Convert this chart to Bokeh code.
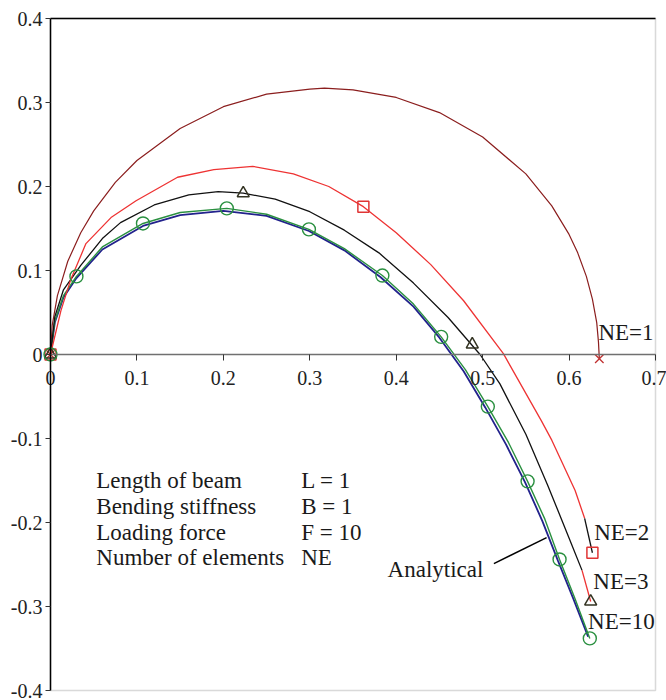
from bokeh.plotting import figure
from bokeh.models import (LinearAxis, FixedTicker, CustomJSTickFormatter, Label,
                          BoxAnnotation, Range1d)
from bokeh.embed import file_html
from bokeh.resources import INLINE

# ---- data ----
x_ticks = [0, 0.1, 0.2, 0.3, 0.4, 0.5, 0.6, 0.7]
y_ticks = [-0.4, -0.3, -0.2, -0.1, 0, 0.1, 0.2, 0.3, 0.4]

# NE = 1
ne1_x = [0, 0.002, 0.008, 0.02, 0.035, 0.05, 0.075, 0.1, 0.15, 0.2, 0.25, 0.3, 0.317, 0.35,
         0.4, 0.45, 0.5, 0.55, 0.58, 0.6, 0.61, 0.62, 0.627, 0.632, 0.634, 0.635]
ne1_y = [0, 0.035, 0.07, 0.111, 0.145, 0.171, 0.205, 0.231, 0.269, 0.295, 0.310, 0.316,
         0.317, 0.315, 0.306, 0.288, 0.259, 0.215, 0.177, 0.143, 0.121, 0.093, 0.066,
         0.038, 0.015, -0.005]
ne1_nx = [0, 0.635]
ne1_ny = [0, -0.005]

# NE = 2
ne2_x = [0, 0.012, 0.023, 0.041, 0.070, 0.099, 0.147, 0.189, 0.234, 0.281, 0.322, 0.362,
         0.40, 0.44, 0.478, 0.524, 0.568, 0.580, 0.607, 0.618, 0.627]
ne2_y = [0, 0.052, 0.088, 0.132, 0.163, 0.183, 0.211, 0.220, 0.224, 0.215, 0.200, 0.176,
         0.145, 0.107, 0.064, 0.001, -0.079, -0.102, -0.162, -0.195, -0.236]
ne2_nx = [0, 0.362, 0.627]
ne2_ny = [0, 0.176, -0.236]

# NE = 3
ne3_x = [0, 0.005, 0.015, 0.035, 0.06, 0.081, 0.12, 0.16, 0.194, 0.223, 0.26, 0.30, 0.34,
         0.38, 0.42, 0.46, 0.497, 0.52, 0.55, 0.575, 0.601, 0.615, 0.625]
ne3_y = [0, 0.045, 0.077, 0.106, 0.138, 0.157, 0.178, 0.190, 0.194, 0.192, 0.185, 0.170,
         0.148, 0.121, 0.085, 0.044, 0.0, -0.035, -0.095, -0.155, -0.221, -0.257, -0.294]
ne3_nx = [0, 0.223, 0.488, 0.625]
ne3_ny = [0, 0.192, 0.012, -0.294]

# NE = 10
ne10_x = [0, 0.005, 0.015, 0.030, 0.06, 0.107, 0.15, 0.204, 0.25, 0.299, 0.34, 0.384, 0.42,
          0.452, 0.48, 0.506, 0.53, 0.552, 0.572, 0.589, 0.607, 0.624]
ne10_y = [0, 0.04, 0.07, 0.093, 0.128, 0.156, 0.169, 0.174, 0.167, 0.149, 0.126, 0.094,
          0.060, 0.021, -0.018, -0.062, -0.105, -0.151, -0.196, -0.244, -0.291, -0.338]
ne10_nx = [0, 0.030, 0.107, 0.204, 0.299, 0.384, 0.452, 0.506, 0.552, 0.589, 0.624]
ne10_ny = [0, 0.093, 0.156, 0.174, 0.149, 0.094, 0.021, -0.062, -0.151, -0.244, -0.338]

# Analytical
an_x = [0, 0.005, 0.015, 0.030, 0.06, 0.107, 0.15, 0.2, 0.25, 0.299, 0.34, 0.382, 0.42,
        0.45, 0.478, 0.503, 0.527, 0.549, 0.569, 0.587, 0.605, 0.622]
an_y = [0, 0.038, 0.068, 0.091, 0.125, 0.153, 0.166, 0.171, 0.165, 0.147, 0.124, 0.092,
        0.057, 0.020, -0.020, -0.063, -0.107, -0.152, -0.198, -0.245, -0.291, -0.336]

info_left = ["Length of beam", "Bending stiffness", "Loading force", "Number of elements"]
info_right = ["L = 1", "B = 1", "F = 10", "NE"]

# ---- styling ----
FONT = "Liberation Serif"
C_NE1 = "#8B1E1E"
C_NE2 = "#EE3333"
C_NE3 = "#111111"
C_NE10 = "#2A9040"
C_AN = "#22228C"

XMIN, XMAX = x_ticks[0], x_ticks[-1]
YMIN, YMAX = y_ticks[0], y_ticks[-1]
# the drawing area covers the whole canvas so that the crossing axes' labels are not clipped
PX_X = 605 / (XMAX - XMIN)
PX_Y = 672 / (YMAX - YMIN)
x_rng = Range1d(XMIN - 50 / PX_X, XMAX + 11 / PX_X)
y_rng = Range1d(YMIN - 10 / PX_Y, YMAX + 18 / PX_Y)

p = figure(width=666, height=700, output_backend="svg", toolbar_location=None,
           x_range=x_rng, y_range=y_rng, x_axis_type=None, y_axis_type=None,
           min_border_left=0, min_border_right=0, min_border_top=0, min_border_bottom=0)
p.background_fill_color = "white"
p.border_fill_color = "white"
p.xgrid.visible = False
p.ygrid.visible = False
p.outline_line_color = None

fmt = CustomJSTickFormatter(code="return Number(tick.toFixed(1)).toString();")

# plot box: grey right/bottom, black top
p.add_layout(BoxAnnotation(left=XMIN, right=XMAX, bottom=YMIN, top=YMAX, fill_alpha=0,
                           line_color="#808080", line_width=1.5, level="underlay"))
p.segment(x0=[XMIN], y0=[YMAX], x1=[XMAX], y1=[YMAX], line_color="black", line_width=1.5)

xa = LinearAxis(ticker=FixedTicker(ticks=x_ticks), formatter=fmt, fixed_location=0,
                bounds=(XMIN, XMAX))
xa.axis_line_color = "#707070"
xa.axis_line_width = 1.5
xa.major_tick_line_color = "#333333"
xa.major_tick_in = 0
xa.major_tick_out = 6
xa.minor_tick_line_color = None
xa.major_label_text_font = FONT
xa.major_label_text_font_size = "20px"
xa.major_label_text_color = "#222222"
xa.major_label_standoff = 10
p.add_layout(xa, "below")

ya = LinearAxis(ticker=FixedTicker(ticks=y_ticks), formatter=fmt, fixed_location=0,
                bounds=(YMIN, YMAX))
ya.axis_line_color = "black"
ya.axis_line_width = 1.5
ya.major_tick_line_color = "#333333"
ya.major_tick_in = 0
ya.major_tick_out = 5
ya.minor_tick_line_color = None
ya.major_label_text_font = FONT
ya.major_label_text_font_size = "20px"
ya.major_label_text_color = "#222222"
ya.major_label_standoff = 3
p.add_layout(ya, "left")

# curves
p.line(ne1_x, ne1_y, line_color=C_NE1, line_width=1.2)
p.line(an_x, an_y, line_color=C_AN, line_width=1.8)
p.line(ne10_x, ne10_y, line_color=C_NE10, line_width=1.4)
p.line(ne3_x[:-1], ne3_y[:-1], line_color=C_NE3, line_width=1.3)
p.line(ne3_x[-2:], ne3_y[-2:], line_color=C_NE2, line_width=1.3)
p.line(ne2_x[:-1], ne2_y[:-1], line_color=C_NE2, line_width=1.3)
p.line(ne2_x[-2:], ne2_y[-2:], line_color=C_NE3, line_width=1.3)

# node markers
p.scatter(ne1_nx, ne1_ny, marker="x", size=12, line_color="#C03030", line_width=1.3)
p.scatter(ne2_nx, ne2_ny, marker="square", size=11, line_color="#E03535",
          fill_color=None, line_width=1.5)
p.scatter(ne3_nx, ne3_ny, marker="triangle", size=12, line_color="#333322",
          fill_color=None, line_width=1.5)
p.scatter(ne10_nx, ne10_ny, marker="circle", size=13, line_color=C_NE10,
          fill_color=None, line_width=1.4)

# annotations
def lab(x, y, t, baseline="middle"):
    p.add_layout(Label(x=x, y=y, text=t, text_font=FONT, text_font_size="23px",
                       text_color="#1a1a1a", text_baseline=baseline, text_align="left"))

lab(0.634, 0.026, "NE=1")
lab(0.629, -0.212, "NE=2")
lab(0.628, -0.270, "NE=3")
lab(0.622, -0.318, "NE=10")
lab(0.390, -0.256, "Analytical")
p.segment(x0=[0.513], y0=[-0.249], x1=[0.574], y1=[-0.218], line_color="black", line_width=1.5)

info_y = [-0.150, -0.181, -0.212, -0.242]
for t, yy in zip(info_left, info_y):
    lab(0.053, yy, t, "alphabetic")
for t, yy in zip(info_right, info_y):
    lab(0.290, yy, t, "alphabetic")

open("out.html", "w").write(file_html(p, INLINE))
